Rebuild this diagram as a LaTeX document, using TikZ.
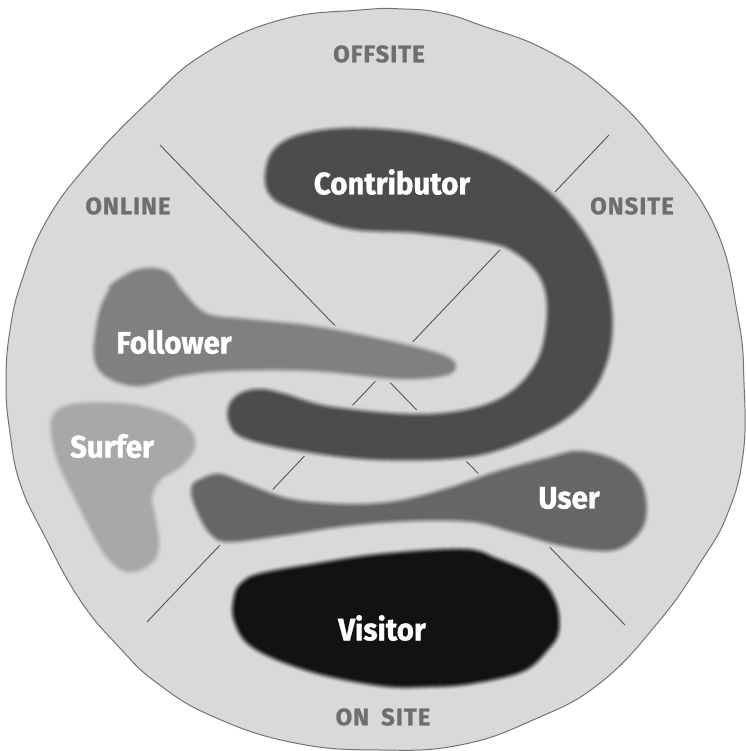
\documentclass[tikz,border=0pt]{standalone}
\usepackage{fontspec}
\setmainfont{Fira Sans}
\newfontfamily\namefont{Fira Sans}[FakeStretch=0.95, FakeBold=1.2]
\newfontfamily\zonefont{Fira Sans}[LetterSpace=4, FakeBold=0.8]

\definecolor{bgfill}{gray}{0.85}
\definecolor{rimline}{gray}{0.45}
\definecolor{divider}{gray}{0.33}
\definecolor{contribcol}{gray}{0.30}
\definecolor{followcol}{gray}{0.50}
\definecolor{surfcol}{gray}{0.66}
\definecolor{usercol}{gray}{0.40}
\definecolor{visitcol}{gray}{0.07}
\definecolor{zonecol}{gray}{0.43}

% A filled shape whose edge fades softly into the background:
% nested strokes, widest and palest first, then the solid fill.
% #1 width of the soft edge, #2 colour, #3 path
\newcommand\softshape[3][8]{%
  \foreach \k in {1,...,16}{%
    \pgfmathsetmacro\w{2*#1*(17-\k)/16}%
    \pgfmathsetmacro\s{(\k-0.5)/16}%
    \pgfmathtruncatemacro\p{100*(3*\s*\s-2*\s*\s*\s)}%
    \draw[line width=\w pt, color=#2!\p!bgfill, line join=round] #3;
  }%
  \fill[#2] #3;
}

\tikzset{
  namelabel/.style={font=\namefont\bfseries\fontsize{31}{31}\selectfont, text=white, inner sep=0pt},
  zonelabel/.style={font=\zonefont\bfseries\fontsize{24}{24}\selectfont, text=zonecol, inner sep=0pt},
  divline/.style={draw=divider, line width=0.9pt},
}

\begin{document}
\begin{tikzpicture}[x=1pt, y=-1pt]
  \useasboundingbox (0,0) rectangle (745,751);
  \fill[white] (0,0) rectangle (745,751);

  % the round field
  \filldraw[fill=bgfill, draw=rimline, line width=1pt]
    plot[smooth cycle, tension=0.75] coordinates {
      (6,383) (10,330) (22,280) (47,220) (90,162) (148,102) (204,54)
      (280,20) (360,10) (404,9) (442,13) (480,25) (546,50)
      (608,92) (662,150) (715,227) (738,317) (744,383) (743,455)
      (727,515) (700,563) (660,620) (600,683) (533,720)
      (460,745) (380,750) (295,743) (214,717) (157,683)
      (119,647) (80,600) (43,533) (20,483) (10,433)};

  % the two dividing diagonals
  \coordinate (nw) at (160,145);
  \coordinate (se) at (625,625);
  \coordinate (ne) at (609,135);
  \coordinate (sw) at (147,622);
  \draw[divline] (nw) -- (se);
  \draw[divline] (ne) -- (sw);

  % Surfer
  \softshape{surfcol}{plot[smooth cycle, tension=0.6] coordinates {
    (58,415) (80,407) (130,408) (167,418) (187,432) (191,447) (178,464)
    (158,477) (148,497) (152,520) (155,547) (147,562) (127,568) (110,555)
    (95,530) (78,496) (62,462) (55,433)}}

  % Follower
  \softshape{followcol}{plot[smooth cycle, tension=0.6] coordinates {
    (117,285) (140,273) (165,275) (180,294) (205,317) (247,323) (313,330)
    (380,343) (431,355) (451,364) (443,372) (397,375) (313,367) (230,367)
    (180,372) (140,382) (111,375) (98,357) (102,317) (111,294)}}

  % Contributor
  \softshape{contribcol}{plot[smooth cycle, tension=0.6] coordinates {
    (269,175) (277,152) (302,138) (350,132) (417,137) (481,155) (530,182)
    (567,216) (595,260) (608,310) (604,358) (583,398) (544,427) (475,452)
    (380,456) (300,447) (247,435) (233,422) (233,406) (244,396) (262,393)
    (285,398) (333,411) (430,418) (500,403) (540,364) (551,310) (542,273)
    (515,248) (485,238) (417,229) (350,225) (297,207) (274,194)}}

  % User
  \softshape{usercol}{plot[smooth cycle, tension=0.6] coordinates {
    (195,490) (204,482) (220,478) (247,488) (290,503) (347,508) (397,505)
    (449,492) (499,475) (547,462) (580,455) (617,465) (638,485) (642,517)
    (629,538) (607,547) (563,542) (513,528) (473,518) (413,517) (347,522)
    (280,532) (230,538) (214,532) (202,513)}}

  % Visitor
  \softshape{visitcol}{plot[smooth cycle, tension=0.6] coordinates {
    (238,597) (245,585) (262,577) (313,568) (380,558) (463,553) (495,562)
    (535,580) (552,603) (555,630) (545,647) (521,668) (470,680) (428,683)
    (381,682) (312,668) (256,645) (238,620)}}

  % role names
  \node[namelabel] (contributor) at (392,182) {Contributor};
  \node[namelabel] (follower)    at (174,342) {Follower};
  \node[namelabel] (surfer)      at (112,446) {Surfer};
  \node[namelabel] (user)        at (569,498) {User};
  \node[namelabel] (visitor)     at (382,628) {Visitor};

  % zone names
  \node[zonelabel] (offsite) at (379,54)  {OFFSITE};
  \node[zonelabel] (online)  at (128,206) {ONLINE};
  \node[zonelabel] (onsite)  at (632,206) {ONSITE};
  \node[zonelabel] (onsite2) at (383,717) {ON\hspace{12pt}SITE};
\end{tikzpicture}
\end{document}
